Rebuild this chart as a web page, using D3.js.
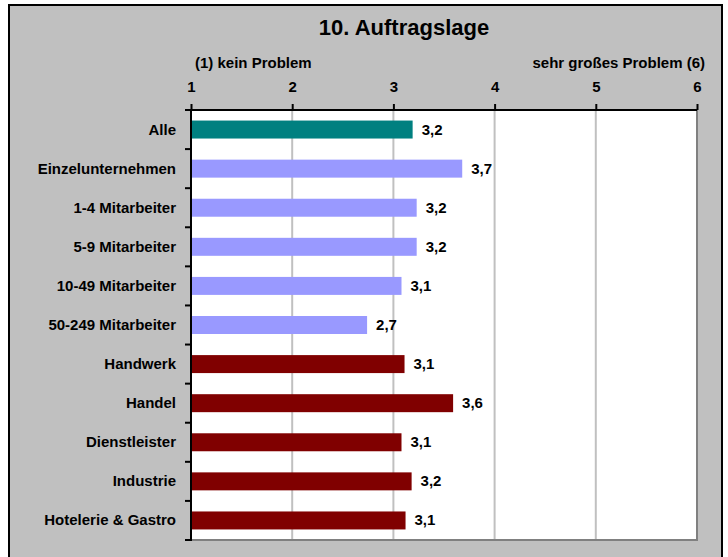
<!DOCTYPE html>
<html>
<head>
<meta charset="utf-8">
<script src="https://cdn.jsdelivr.net/npm/d3@7"></script>
<style>
  body { margin: 0; background: #fff; }
  text { font-family: "Liberation Sans", Arial, sans-serif; font-weight: bold; fill: #000; }
</style>
</head>
<body>
<div id="drawing"></div>
<script>
// data (bar ends estimated, labels show one decimal)
const categories = ["Alle", "Einzelunternehmen", "1-4 Mitarbeiter", "5-9 Mitarbeiter",
  "10-49 Mitarbeiter", "50-249 Mitarbeiter", "Handwerk", "Handel",
  "Dienstleister", "Industrie", "Hotelerie & Gastro"];
const values = [3.19, 3.68, 3.23, 3.23, 3.08, 2.74, 3.11, 3.59, 3.08, 3.18, 3.12];
const groups = ["alle", "size", "size", "size", "size", "size",
  "sector", "sector", "sector", "sector", "sector"];
const tickValues = [1, 2, 3, 4, 5, 6];
const title = "10. Auftragslage";
const leftNote = "(1) kein Problem";
const rightNote = "sehr großes Problem (6)";

const width = 728;
const height = 557;
const plot = {left: 191, right: 697, top: 110, bottom: 540};
const colors = {alle: "#008080", size: "#9999FF", sector: "#800000"};

const svg = d3.select("#drawing").append("svg")
  .attr("width", width)
  .attr("height", height);

// grey chart panel
svg.append("rect")
  .attr("x", 9).attr("y", 5)
  .attr("width", 713).attr("height", 570)
  .attr("fill", "#C0C0C0")
  .attr("stroke", "#000")
  .attr("stroke-width", 2);

const x = d3.scaleLinear().domain([1, 6]).range([plot.left, plot.right]);
const y = d3.scaleBand().domain(categories).range([plot.top, plot.bottom]).paddingInner(0.54).paddingOuter(0.27);
const yb = d3.scaleBand().domain(categories).range([plot.top, plot.bottom]);

// white plot area
svg.append("rect")
  .attr("x", plot.left).attr("y", plot.top)
  .attr("width", plot.right - plot.left).attr("height", plot.bottom - plot.top)
  .attr("fill", "#fff");

// vertical gridlines
svg.selectAll(".grid")
  .data(tickValues.slice(1, -1))
  .enter()
  .append("line")
    .attr("class", "grid")
    .attr("x1", d => x(d)).attr("x2", d => x(d))
    .attr("y1", plot.top).attr("y2", plot.bottom)
    .attr("stroke", "#C0C0C0")
    .attr("stroke-width", 2);

// right and bottom edge of plot
svg.append("path")
  .attr("d", `M${plot.right},${plot.top} V${plot.bottom} H${plot.left}`)
  .attr("fill", "none")
  .attr("stroke", "#808080")
  .attr("stroke-width", 2);

// bars
svg.selectAll(".bar")
  .data(values)
  .enter()
  .append("rect")
    .attr("class", "bar")
    .attr("x", x(1))
    .attr("y", (d, i) => y(categories[i]))
    .attr("width", d => x(d) - x(1))
    .attr("height", y.bandwidth())
    .attr("fill", (d, i) => colors[groups[i]]);

// value labels
svg.selectAll(".val")
  .data(values)
  .enter()
  .append("text")
    .attr("class", "val")
    .attr("x", d => x(d) + 9)
    .attr("y", (d, i) => y(categories[i]) + y.bandwidth() / 2 + 5)
    .style("font-size", "15px")
    .text(d => d.toFixed(1).replace(".", ","));

// top axis
const topAxis = d3.axisTop(x).tickValues(tickValues).tickSize(6).tickFormat(d3.format("d"));
const gt = svg.append("g")
  .attr("transform", `translate(0, ${plot.top})`)
  .call(topAxis);
gt.select(".domain").attr("stroke", "#000").attr("stroke-width", 2).attr("d", `M${plot.left},0 H${plot.right}`);
gt.selectAll(".tick line").attr("stroke", "#000").attr("stroke-width", 2);
gt.selectAll(".tick text")
  .attr("y", -18)
  .style("font-size", "15px")
  .style("font-family", "'Liberation Sans', Arial, sans-serif")
  .style("font-weight", "bold")
  .attr("fill", "#000");

// left axis: ticks between categories
const bounds = categories.map(c => yb(c)).concat([plot.bottom]);
svg.selectAll(".ytick")
  .data(bounds)
  .enter()
  .append("line")
    .attr("class", "ytick")
    .attr("x1", plot.left - 6).attr("x2", plot.left)
    .attr("y1", d => d).attr("y2", d => d)
    .attr("stroke", "#000").attr("stroke-width", 2);
svg.append("line")
  .attr("x1", plot.left).attr("x2", plot.left)
  .attr("y1", plot.top - 1).attr("y2", plot.bottom + 1)
  .attr("stroke", "#000").attr("stroke-width", 2);

// category labels
svg.selectAll(".cat")
  .data(categories)
  .enter()
  .append("text")
    .attr("class", "cat")
    .attr("x", 176)
    .attr("y", d => yb(d) + yb.bandwidth() / 2 + 5)
    .attr("text-anchor", "end")
    .style("font-size", "15px")
    .text(d => d);

// titles
svg.append("text")
  .attr("x", 404).attr("y", 35)
  .attr("text-anchor", "middle")
  .style("font-size", "22px")
  .text(title);
svg.append("text")
  .attr("x", 195).attr("y", 68)
  .style("font-size", "15px")
  .text(leftNote);
svg.append("text")
  .attr("x", 705).attr("y", 68)
  .attr("text-anchor", "end")
  .style("font-size", "15px")
  .text(rightNote);
</script>
</body>
</html>
